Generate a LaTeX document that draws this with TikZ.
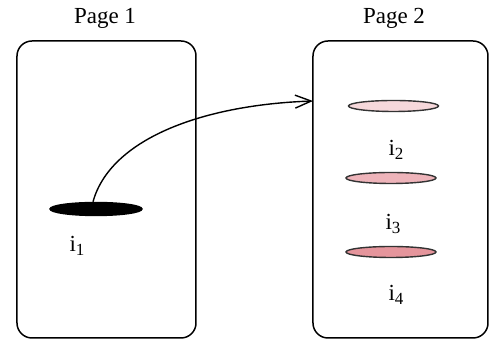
\documentclass[tikz,border=0pt]{standalone}
\usepackage{fontspec}
\setmainfont{Liberation Serif}
\usetikzlibrary{shapes.geometric,arrows.meta}
\definecolor{pinkA}{HTML}{F6D8DB}
\definecolor{pinkB}{HTML}{EEB4BA}
\definecolor{pinkC}{HTML}{E5959C}
\definecolor{rim}{HTML}{333333}
\newcommand{\isub}[1]{i\raisebox{-0.45ex}{\fontsize{8.5}{8.5}\selectfont #1}}
\tikzset{
  page/.style={draw, line width=0.75pt, rounded corners=7.5pt, minimum width=89.5pt, minimum height=148.5pt, inner sep=0pt, outer sep=0pt},
  item/.style={ellipse, draw=rim, line width=0.7pt, minimum width=45pt, minimum height=5.5pt, inner sep=0pt},
  title/.style={font=\fontsize{11.5}{13}\selectfont},
  lab/.style={font=\fontsize{11.5}{13}\selectfont},
  link/.style={line width=0.7pt, -{Straight Barb[length=8pt,width=6.5pt,line width=0.7pt]}}
}
\begin{document}
\begin{tikzpicture}[x=0.5pt,y=-0.5pt]
\useasboundingbox (0,0) rectangle (489,340);
\node[page] (p1) at (106.5,189.5) {};
\node[page, minimum width=87.5pt] (p2) at (400.5,189.5) {};
\node[title] (t1) at (105,18) {Page 1};
\node[title] (t2) at (394,18) {Page 2};
\node[item, fill=black, draw=black, minimum width=46pt, minimum height=6.5pt] (e1) at (96,209) {};
\node[item, fill=pinkA] (e2) at (393.5,106) {};
\node[item, fill=pinkB] (e3) at (391,178) {};
\node[item, fill=pinkC] (e4) at (391,252) {};
\node[lab] (l1) at (77,246) {\isub{1}};
\node[lab] (l2) at (396,150) {\isub{2}};
\node[lab] (l3) at (393,224) {\isub{3}};
\node[lab] (l4) at (396,295) {\isub{4}};
\coordinate (start) at ([xshift=-1.5pt]e1.north);
\coordinate (tip) at ([yshift=44.25pt]p2.west);
\draw[link] (start) .. controls (110,140) and (200,105) .. (tip);
\end{tikzpicture}
\end{document}
